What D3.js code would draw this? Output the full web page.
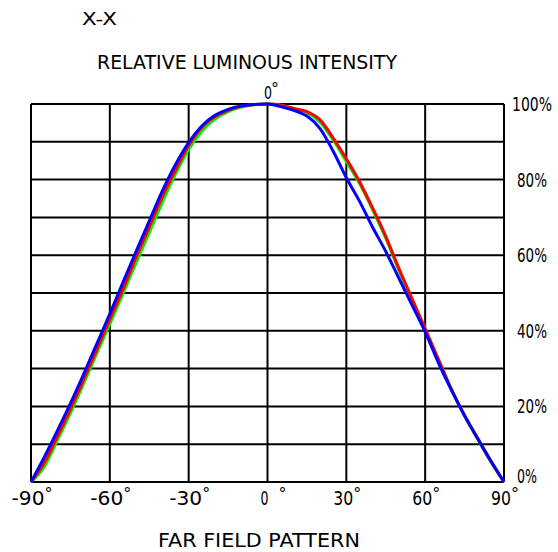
<!DOCTYPE html>
<html>
<head>
<meta charset="utf-8">
<script src="https://cdn.jsdelivr.net/npm/d3@7"></script>
<style>
  body { margin: 0; background: #fff; }
  text { font-family: "DejaVu Sans", sans-serif; fill: #000; }
</style>
</head>
<body>
<div id="chart"></div>
<script>
// angles in degrees, one value per angle for each curve (% of peak)
var angles = [-90,-85,-80,-75,-70,-65,-60,-55,-50,-45,-40,-35,-30,-25,-20,-15,-10,-5,
              0,5,10,15,20,25,30,35,40,45,50,55,60,65,70,75,80,85,90];

var greenVals = [0,4,11,18.2,26,34,41.8,49.8,58,66,74,81.5,88,92.8,96,98,99.2,99.8,
                 100,99.7,98.8,97.8,95.2,90.5,84.8,79,72,64.5,56,48,40.5,32.5,24.5,17.5,11.3,5.3,0];
var redVals   = [0,5,12,19.3,27,35,43,51,59.5,67.5,75.5,82.5,89,93.8,96.6,98.3,99.4,99.9,
                 100,99.7,98.8,98,95.8,91,85.5,79.5,72.5,65,56.5,48.5,40.5,32.5,24.5,17.5,11.5,5.5,0];
var blueVals  = [0,6.5,13.5,20.8,28.5,36.5,44.5,52.8,61,69,77,84,89.8,94.2,97,98.6,99.5,99.9,
                 100,99.3,98.3,96.8,93.5,87.5,80.5,74.3,67.4,61,53.9,46.8,39.7,31.6,24.3,17.6,11.5,5.6,0];

var xTicks = [-90,-60,-30,0,30,60,90];
var yGrid  = [0,10,20,30,40,50,60,70,80,90,100];
var yLabels = [0,20,40,60,80,100];

var series = [
  {name: "green", color: "#00ee00", values: greenVals},
  {name: "red",   color: "#ff0000", values: redVals},
  {name: "blue",  color: "#0000ff", values: blueVals}
];

var W = 558, H = 552;
var pLeft = 31, pRight = 504, pTop = 104, pBottom = 482;

var svg = d3.select("#chart").append("svg")
  .attr("width", W)
  .attr("height", H);

var x = d3.scaleLinear().domain([-90, 90]).range([pLeft, pRight]);
var y = d3.scaleLinear().domain([0, 100]).range([pBottom, pTop]);

// grid
svg.selectAll(".hline")
  .data(yGrid)
  .enter().append("line")
  .attr("class", "hline")
  .attr("x1", pLeft).attr("x2", pRight)
  .attr("y1", function(d) { return y(d); })
  .attr("y2", function(d) { return y(d); })
  .attr("stroke", "#000")
  .attr("stroke-width", 2);

svg.selectAll(".vline")
  .data(xTicks)
  .enter().append("line")
  .attr("class", "vline")
  .attr("x1", function(d) { return x(d); })
  .attr("x2", function(d) { return x(d); })
  .attr("y1", pTop).attr("y2", pBottom)
  .attr("stroke", "#000")
  .attr("stroke-width", 2);

// curves
var line = d3.line()
  .x(function(d, i) { return x(angles[i]); })
  .y(function(d) { return y(d); })
  .curve(d3.curveMonotoneX);

svg.selectAll(".curve")
  .data(series)
  .enter().append("path")
  .attr("class", "curve")
  .attr("d", function(d) { return line(d.values); })
  .attr("fill", "none")
  .attr("stroke", function(d) { return d.color; })
  .attr("stroke-width", 3)
  .attr("stroke-linejoin", "round");

// bottom tick labels
function labW(d) { return String(Math.abs(d)).length * 10 + (d < 0 ? 13 : 0) - (d === 0 ? 2 : 0); }

var xl = svg.selectAll(".xlab")
  .data(xTicks)
  .enter().append("g")
  .attr("class", "xlab");

xl.append("text")
  .attr("x", function(d) { return x(d) - 3; })
  .attr("y", 505)
  .attr("text-anchor", "middle")
  .attr("font-size", 19)
  .attr("textLength", labW)
  .attr("lengthAdjust", "spacingAndGlyphs")
  .text(function(d) { return (d < 0 ? "-" : "") + Math.abs(d); });

xl.append("text")
  .attr("x", function(d) { return x(d) - 3 + labW(d) / 2 + (d === 0 ? 10 : 0); })
  .attr("y", 499)
  .attr("font-size", 16)
  .text("°");

// right percentage labels
svg.selectAll(".ylab")
  .data(yLabels)
  .enter().append("text")
  .attr("class", "ylab")
  .attr("x", function(d) { return pRight + (d === 100 ? 8 : 13); })
  .attr("y", function(d) { return d === 0 ? 483 : y(d) + 7; })
  .attr("font-size", 19)
  .attr("textLength", function(d) { return String(d).length * 10 + 10; })
  .attr("lengthAdjust", "spacingAndGlyphs")
  .text(function(d) { return d + "%"; });

// top 0° mark
svg.append("text")
  .attr("x", 264).attr("y", 99)
  .attr("font-size", 17)
  .attr("textLength", 8)
  .attr("lengthAdjust", "spacingAndGlyphs")
  .text("0");
svg.append("text")
  .attr("x", 271).attr("y", 94)
  .attr("font-size", 16)
  .text("°");

// titles
svg.append("text")
  .attr("x", 82).attr("y", 25)
  .attr("font-size", 18)
  .attr("textLength", 35)
  .attr("lengthAdjust", "spacingAndGlyphs")
  .text("X-X");

svg.append("text")
  .attr("x", 97).attr("y", 69)
  .attr("font-size", 19)
  .attr("textLength", 300)
  .attr("lengthAdjust", "spacingAndGlyphs")
  .text("RELATIVE LUMINOUS INTENSITY");

svg.append("text")
  .attr("x", 158).attr("y", 547)
  .attr("font-size", 19)
  .attr("textLength", 202)
  .attr("lengthAdjust", "spacingAndGlyphs")
  .text("FAR FIELD PATTERN");
</script>
</body>
</html>
